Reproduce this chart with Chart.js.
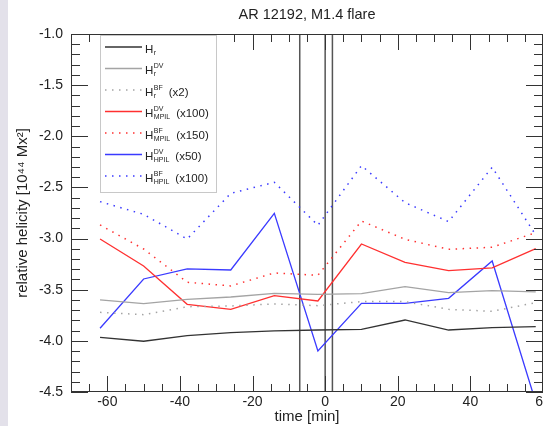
<!DOCTYPE html>
<html>
<head>
<meta charset="utf-8">
<script src="https://cdn.jsdelivr.net/npm/chart.js@4"></script>
<style>
    html, body { margin: 0; padding: 0; overflow: hidden; background: #e3e1ea; }
    #helicity { position: absolute; left: 8px; top: 0; background: #fff; }
</style>
</head>
<body>
<canvas id="helicity" width="552" height="426"></canvas>
<script>
const FONT = "'Liberation Sans', Arial, Helvetica, sans-serif";
const TEXTCOLOR = "#222";
const AXISCOLOR = "#333";

// time of each measurement [min], relative to flare peak
const times = [-62, -50, -38, -26, -14, -2, 10, 22, 34, 46, 58];
// flare start, peak, end [min]
const flareTimes = [-7, 0, 2];

// relative helicity [1e44 Mx^2], scaled as in the legend
const hr      = [-3.965, -4.004, -3.949, -3.92, -3.903, -3.894, -3.887, -3.796, -3.894, -3.87, -3.861];
const hrDV    = [-3.60, -3.636, -3.594, -3.571, -3.535, -3.545, -3.538, -3.47, -3.529, -3.509, -3.522];
const hrBF    = [-3.721, -3.744, -3.666, -3.659, -3.639, -3.656, -3.616, -3.616, -3.692, -3.711, -3.626];
const mpilDV  = [-3.004, -3.268, -3.643, -3.692, -3.558, -3.61, -3.053, -3.232, -3.314, -3.287, -3.098];
const mpilBF  = [-2.867, -3.102, -3.427, -3.463, -3.336, -3.359, -2.828, -3.007, -3.105, -3.085, -2.942];
const hpilDV  = [-3.877, -3.395, -3.297, -3.307, -2.753, -4.099, -3.633, -3.633, -3.584, -3.219, -4.6];
const hpilBF  = [-2.639, -2.763, -3.004, -2.558, -2.45, -2.87, -2.287, -2.649, -2.834, -2.303, -2.965];

// legend text pieces
const seriesSub   = ["r", "r", "r", "MPIL", "MPIL", "HPIL", "HPIL"];
const seriesSup   = ["", "DV", "BF", "DV", "BF", "DV", "BF"];
const seriesScale = ["", "", "(x2)", "(x100)", "(x150)", "(x50)", "(x100)"];

const xTicks = [-60, -40, -20, 0, 20, 40, 60];
const yTicks = [-4.5, -4.0, -3.5, -3.0, -2.5, -2.0, -1.5, -1.0];

const BLACK = "#333";
const GRAY = "#a4a4a4";
const RED = "rgb(255, 48, 48)";
const BLUE = "rgb(58, 58, 255)";
const DOTS = [1.5, 5.5];

const seriesValues = [hr, hrDV, hrBF, mpilDV, mpilBF, hpilDV, hpilBF];
const seriesColors = [BLACK, GRAY, GRAY, RED, RED, BLUE, BLUE];
const seriesDashes = [[], [], DOTS, [], DOTS, [], DOTS];

function pairs(values) {
    return values.map((v, i) => ({ x: times[i], y: v }));
}

const datasets = seriesValues.map((values, i) => ({
    label: "H_" + seriesSub[i] + "^" + seriesSup[i] + " " + seriesScale[i],
    data: pairs(values),
    borderColor: seriesColors[i],
    borderWidth: seriesDashes[i].length ? 1.5 : 1.3,
    borderDash: seriesDashes[i],
    pointRadius: 0,
    tension: 0
}));

// vertical flare markers
flareTimes.forEach(t => {
    datasets.push({
        label: "flare " + t,
        data: [{ x: t, y: -4.5 }, { x: t, y: -1.0 }],
        borderColor: "#555",
        borderWidth: 1.5,
        pointRadius: 0
    });
});

// inward ticks on all four sides plus the frame
const frame = {
    id: "frame",
    afterDatasetsDraw(chart) {
        const { ctx, chartArea: a, scales: { x, y } } = chart;
        ctx.save();
        ctx.strokeStyle = AXISCOLOR;
        ctx.lineWidth = 1;
        ctx.beginPath();
        for (let v = -70; v <= 60; v += 5) {
            const px = Math.round(x.getPixelForValue(v)) + 0.5;
            const len = v % 20 === 0 ? 16 : 8;
            ctx.moveTo(px, a.bottom);
            ctx.lineTo(px, a.bottom - len);
            ctx.moveTo(px, a.top);
            ctx.lineTo(px, a.top + len);
        }
        for (let i = 0; i <= 35; i++) {
            const py = Math.round(y.getPixelForValue(-4.5 + i * 0.1)) + 0.5;
            const len = i % 5 === 0 ? 17 : 9;
            ctx.moveTo(a.left, py);
            ctx.lineTo(a.left + len, py);
            ctx.moveTo(a.right, py);
            ctx.lineTo(a.right - len, py);
        }
        ctx.stroke();
        ctx.strokeRect(Math.round(a.left) + 0.5, Math.round(a.top) + 0.5,
            Math.round(a.width) - 1, Math.round(a.height) - 1);
        ctx.restore();
    }
};

// legend with sub- and superscripts
const subLegend = {
    id: "subLegend",
    afterDraw(chart) {
        const { ctx, chartArea: a } = chart;
        ctx.save();
        const bx = a.left + 29, by = a.top + 1;
        ctx.fillStyle = "#fff";
        ctx.fillRect(bx, by, 116, 157);
        ctx.strokeStyle = "#c8c8c8";
        ctx.lineWidth = 1;
        ctx.strokeRect(bx + 0.5, by + 0.5, 116, 157);

        for (let i = 0; i < seriesValues.length; i++) {
            const ly = a.top + 13 + i * 21.5;
            ctx.strokeStyle = seriesColors[i];
            ctx.lineWidth = 1.5;
            ctx.setLineDash(seriesDashes[i]);
            ctx.beginPath();
            ctx.moveTo(a.left + 34, ly);
            ctx.lineTo(a.left + 71, ly);
            ctx.stroke();
            ctx.setLineDash([]);

            const base = ly + 5.5;
            let tx = a.left + 74;
            ctx.fillStyle = TEXTCOLOR;
            ctx.textBaseline = "alphabetic";
            ctx.font = "11.5px " + FONT;
            ctx.fillText("H", tx, base);
            tx += ctx.measureText("H").width + 0.5;
            ctx.font = "7px " + FONT;
            ctx.fillText(seriesSup[i], tx, base - 6);
            ctx.fillText(seriesSub[i], tx, base + 2);
            const w = Math.max(ctx.measureText(seriesSup[i]).width, ctx.measureText(seriesSub[i]).width);
            if (seriesScale[i]) {
                ctx.font = "11.5px " + FONT;
                ctx.fillText(seriesScale[i], tx + w + 6, base);
            }
        }
        ctx.restore();
    }
};

const ctx = document.querySelector("#helicity").getContext("2d");
new Chart(ctx, {
    type: "line",
    data: { datasets: datasets },
    options: {
        responsive: false,
        animation: false,
        layout: { padding: { left: 0, right: 17, top: 0, bottom: 0 } },
        scales: {
            x: {
                type: "linear",
                min: -70,
                max: 60,
                afterBuildTicks: (scale) => { scale.ticks = xTicks.map(v => ({ value: v })); },
                afterFit: (scale) => { scale.height = 34; },
                grid: { display: false, drawTicks: false },
                border: { display: false },
                ticks: {
                    padding: 2,
                    maxRotation: 0,
                    autoSkip: false,
                    color: TEXTCOLOR,
                    font: { family: FONT, size: 14 }
                },
                title: {
                    display: true,
                    text: "time [min]",
                    color: TEXTCOLOR,
                    font: { family: FONT, size: 15 },
                    padding: { top: 0, bottom: 0 }
                }
            },
            y: {
                min: -4.5,
                max: -1.0,
                afterBuildTicks: (scale) => { scale.ticks = yTicks.map(v => ({ value: v })); },
                afterFit: (scale) => { scale.width = 63; },
                grid: { display: false, drawTicks: false },
                border: { display: false },
                ticks: {
                    padding: 8,
                    autoSkip: false,
                    color: TEXTCOLOR,
                    font: { family: FONT, size: 14 },
                    callback: (v) => v.toFixed(1)
                },
                title: {
                    display: true,
                    text: "relative helicity [10\u2074\u2074 Mx\u00b2]",
                    color: TEXTCOLOR,
                    font: { family: FONT, size: 15 },
                    padding: { top: 6, bottom: 0 }
                }
            }
        },
        plugins: {
            legend: { display: false },
            tooltip: { enabled: false },
            title: {
                display: true,
                fullSize: false,
                text: "AR 12192, M1.4 flare",
                color: TEXTCOLOR,
                font: { family: FONT, size: 14.5, weight: "normal" },
                padding: { top: 6, bottom: 10.6 }
            }
        }
    },
    plugins: [frame, subLegend]
});
</script>
</body>
</html>
